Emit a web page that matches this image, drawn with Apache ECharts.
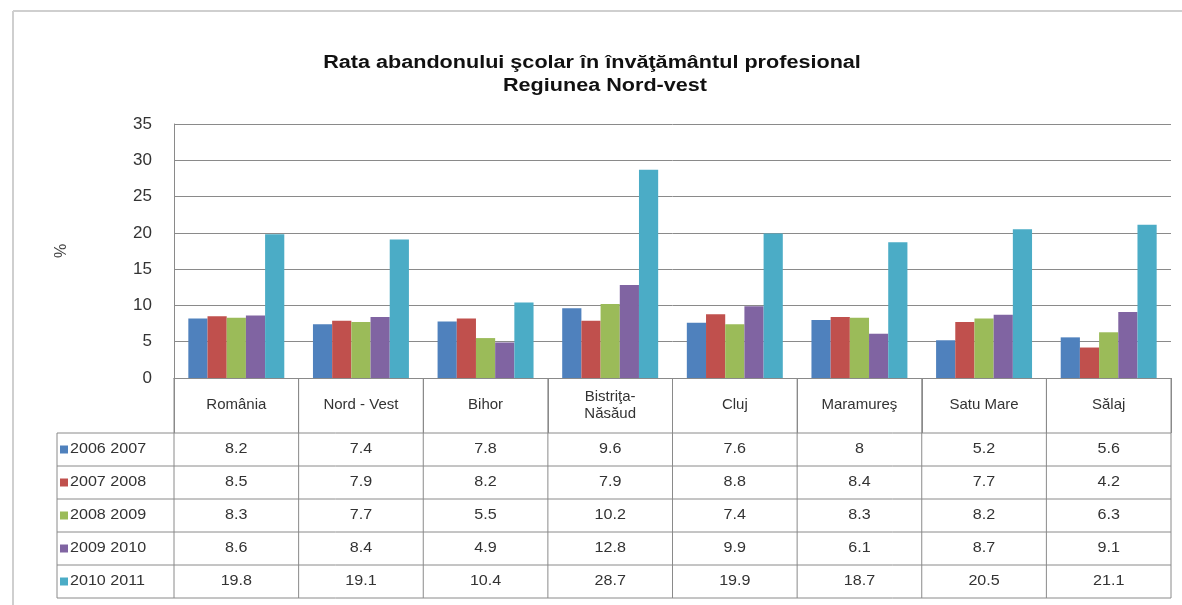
<!DOCTYPE html>
<html>
<head>
<meta charset="utf-8">
<script src="https://cdn.jsdelivr.net/npm/echarts@6/dist/echarts.min.js"></script>
<style>
html, body { margin: 0; padding: 0; background: #fff; }
#main { width: 1182px; height: 605px; }
</style>
</head>
<body>
<div id="main"></div>
<script>
var categories = ['România', 'Nord - Vest', 'Bihor', 'Bistriţa-\nNăsăud', 'Cluj', 'Maramureş', 'Satu Mare', 'Sălaj'];
var seriesNames = ['2006 2007', '2007 2008', '2008 2009', '2009 2010', '2010 2011'];
var s2006 = [8.2, 7.4, 7.8, 9.6, 7.6, 8, 5.2, 5.6];
var s2007 = [8.5, 7.9, 8.2, 7.9, 8.8, 8.4, 7.7, 4.2];
var s2008 = [8.3, 7.7, 5.5, 10.2, 7.4, 8.3, 8.2, 6.3];
var s2009 = [8.6, 8.4, 4.9, 12.8, 9.9, 6.1, 8.7, 9.1];
var s2010 = [19.8, 19.1, 10.4, 28.7, 19.9, 18.7, 20.5, 21.1];
var colors = ['#4f81bd', '#c0504d', '#9bbb59', '#8064a2', '#4bacc6'];

var allSeries = [s2006, s2007, s2008, s2009, s2010];

var chart = echarts.init(document.getElementById('main'));

// table geometry (below the plot)
var gLeft = 174, gRight = 1171, gTop = 124, gBottom = 378;
var colW = (gRight - gLeft) / categories.length;
var tabLeft = 57, headBottom = 433, rowH = 33;
var font = '"Liberation Sans", Arial, sans-serif';
var lineCol = '#8a8a8a';
var sx = 1.15; // the source picture is a bit stretched sideways

var graphics = [];
// outer frame
graphics.push({ type: 'line', shape: { x1: 13, y1: 11, x2: 1182, y2: 11 }, style: { stroke: '#cfcfcf', lineWidth: 2 } });
graphics.push({ type: 'line', shape: { x1: 13, y1: 11, x2: 13, y2: 605 }, style: { stroke: '#cfcfcf', lineWidth: 2 } });

// title
graphics.push({ type: 'text', x: 592, y: 63, scaleX: 1.2, style: { text: 'Rata abandonului şcolar în învăţământul profesional', font: 'bold 18px ' + font, fill: '#111', align: 'center', verticalAlign: 'middle' } });
graphics.push({ type: 'text', x: 605, y: 86, scaleX: 1.2, style: { text: 'Regiunea Nord-vest', font: 'bold 18px ' + font, fill: '#111', align: 'center', verticalAlign: 'middle' } });

// horizontal lines of the table body
for (var r = 0; r <= seriesNames.length; r++) {
    var y = headBottom + r * rowH;
    graphics.push({ type: 'line', shape: { x1: tabLeft, y1: y, x2: gRight, y2: y }, style: { stroke: lineCol, lineWidth: 1 } });
}
// vertical lines
graphics.push({ type: 'line', shape: { x1: tabLeft, y1: headBottom, x2: tabLeft, y2: headBottom + seriesNames.length * rowH }, style: { stroke: lineCol, lineWidth: 1 } });
for (var c = 0; c <= categories.length; c++) {
    var x = gLeft + c * colW;
    graphics.push({ type: 'line', shape: { x1: x, y1: gBottom, x2: x, y2: headBottom + seriesNames.length * rowH }, style: { stroke: lineCol, lineWidth: 1 } });
}
// legend keys + values
for (var i = 0; i < seriesNames.length; i++) {
    var cy = headBottom + i * rowH + rowH / 2;
    graphics.push({ type: 'rect', shape: { x: 60, y: cy - 4, width: 8, height: 8 }, style: { fill: colors[i] } });
    graphics.push({ type: 'text', x: 70, y: cy, scaleX: sx, style: { text: seriesNames[i], font: '14px ' + font, fill: '#333', verticalAlign: 'middle', align: 'left' } });
    for (var j = 0; j < categories.length; j++) {
        graphics.push({ type: 'text', x: gLeft + j * colW + colW / 2, y: cy, scaleX: sx, style: { text: String(allSeries[i][j]), font: '14px ' + font, fill: '#333', verticalAlign: 'middle', align: 'center' } });
    }
}

var option = {
    animation: false,
    grid: { left: gLeft, right: 1182 - gRight, top: gTop, bottom: 605 - gBottom },
    xAxis: {
        type: 'category',
        data: categories,
        boundaryGap: true,
        axisLine: { show: true, lineStyle: { color: lineCol } },
        axisTick: { show: true, length: headBottom - gBottom, lineStyle: { color: lineCol } },
        axisLabel: { margin: 27, verticalAlign: 'middle', fontFamily: font, fontSize: 15, color: '#333', lineHeight: 17, interval: 0 }
    },
    yAxis: {
        type: 'value',
        min: 0, max: 35, interval: 5,
        name: '%',
        nameLocation: 'middle',
        nameGap: 104,
        nameRotate: 90,
        nameTextStyle: { fontFamily: font, fontSize: 16, color: '#444' },
        axisLine: { show: true, lineStyle: { color: lineCol } },
        axisTick: { show: false },
        axisLabel: { margin: 22, fontFamily: font, fontSize: 17, color: '#333' },
        splitLine: { lineStyle: { color: lineCol, width: 1 } }
    },
    series: seriesNames.map(function (name, i) {
        return {
            name: name,
            type: 'bar',
            data: allSeries[i],
            itemStyle: { color: colors[i] },
            barGap: '0%',
            barCategoryGap: '23%'
        };
    }),
    graphic: graphics
};
option && chart.setOption(option);
</script>
</body>
</html>
